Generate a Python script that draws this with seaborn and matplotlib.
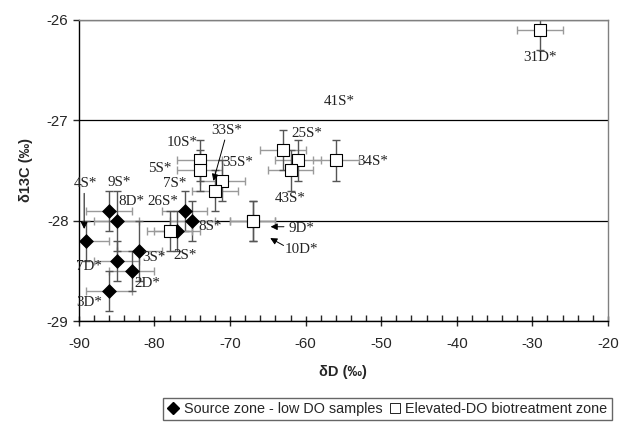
import numpy as np
import pandas as pd
import matplotlib
matplotlib.use("Agg")
import matplotlib.pyplot as plt
from matplotlib.lines import Line2D
from matplotlib.ticker import MultipleLocator
import seaborn as sns

# source zone (low DO) samples
src_labels = ["4S*", "9S*", "8D*", "3S*", "7D*", "2D*", "3D*", "26S*", "8S*", "2S*"]
src_dD = [-89.0, -86.0, -85.0, -82.0, -85.0, -83.0, -86.0, -76.0, -75.0, -77.0]
src_d13C = [-28.2, -27.9, -28.0, -28.3, -28.4, -28.5, -28.7, -27.9, -28.0, -28.1]
src_dD_err = [3, 3, 3, 3, 3, 3, 3, 3, 3, 3]
src_d13C_err = [0.2, 0.2, 0.3, 0.3, 0.2, 0.2, 0.2, 0.2, 0.2, 0.2]

# elevated-DO biotreatment zone samples
elev_labels = ["31D*", "41S*", "25S*", "43S*", "34S*", "10S*", "5S*", "35S*",
               "33S*", "7S*", "9D*", "10D*"]
elev_dD = [-29.0, -63.0, -61.0, -62.0, -56.0, -74.0, -74.0, -71.0, -72.0, -78.0, -67.0, -67.0]
elev_d13C = [-26.1, -27.3, -27.4, -27.5, -27.4, -27.4, -27.5, -27.6, -27.7, -28.1, -28.0, -28.0]
elev_dD_err = [3, 3, 3, 3, 3, 3, 3, 3, 3, 3, 3, 3]
elev_d13C_err = [0.2, 0.2, 0.2, 0.2, 0.2, 0.2, 0.2, 0.2, 0.2, 0.2, 0.2, 0.2]

src_name = "Source zone - low DO samples"
elev_name = "Elevated-DO biotreatment zone"

df = pd.concat([
    pd.DataFrame({"label": src_labels, "dD": src_dD, "d13C": src_d13C,
                  "xerr": src_dD_err, "yerr": src_d13C_err, "zone": src_name}),
    pd.DataFrame({"label": elev_labels, "dD": elev_dD, "d13C": elev_d13C,
                  "xerr": elev_dD_err, "yerr": elev_d13C_err, "zone": elev_name}),
], ignore_index=True)

# where each sample label sits (data coords)
label_pos = {
    "31D*": (-29.0, -26.38), "41S*": (-55.5, -26.81), "25S*": (-59.8, -27.13),
    "34S*": (-51.1, -27.41), "43S*": (-62.1, -27.78), "10S*": (-76.4, -27.22),
    "33S*": (-70.5, -27.10), "5S*": (-79.3, -27.48), "35S*": (-69.0, -27.42),
    "7S*": (-77.3, -27.63), "4S*": (-89.1, -27.63), "9S*": (-84.7, -27.62),
    "8D*": (-83.0, -27.81), "26S*": (-78.9, -27.81), "8S*": (-72.7, -28.06),
    "2S*": (-76.0, -28.35), "3S*": (-80.1, -28.37), "7D*": (-88.7, -28.46),
    "2D*": (-80.9, -28.63), "3D*": (-88.7, -28.81), "9D*": (-60.6, -28.08),
    "10D*": (-60.5, -28.29),
}
arrows = [((-70.6, -27.17), (-72.3, -27.63)),
          ((-89.3, -27.70), (-89.3, -28.11)),
          ((-62.5, -28.06), (-65.0, -28.06)),
          ((-62.6, -28.26), (-65.0, -28.16))]

sns.set_style("white")
plt.rcParams["font.family"] = ["Liberation Sans", "DejaVu Sans"]
plt.rcParams["axes.unicode_minus"] = False

fig = plt.figure(figsize=(6.21, 4.22), dpi=100)
ax = fig.add_axes([0.127, 0.239, 0.852, 0.714])

for zone in [src_name, elev_name]:
    sub = df[df.zone == zone]
    ax.errorbar(sub.dD, sub.d13C, xerr=sub.xerr, fmt="none", ecolor="#9a9a9a",
                elinewidth=1, capsize=3, capthick=1, zorder=2)
    ax.errorbar(sub.dD, sub.d13C, yerr=sub.yerr, fmt="none", ecolor="#555555",
                elinewidth=1, capsize=3, capthick=1, zorder=2)

# diamonds first, squares on top
sns.scatterplot(data=df[df.zone == src_name], x="dD", y="d13C", marker="D",
                color="black", s=50, edgecolor="black", linewidth=0.5,
                legend=False, ax=ax, zorder=3)
sns.scatterplot(data=df[df.zone == elev_name], x="dD", y="d13C", marker="s",
                color="white", s=80, edgecolor="black", linewidth=0.8,
                legend=False, ax=ax, zorder=3)

for lab, (tx, ty) in label_pos.items():
    ax.text(tx, ty, lab, ha="center", va="center", fontsize=10.8,
            family=["Liberation Serif", "DejaVu Serif"], color="#222222", zorder=4)
for (x0, y0), (x1, y1) in arrows:
    ax.annotate("", xy=(x1, y1), xytext=(x0, y0),
                arrowprops=dict(arrowstyle="-|>", color="black", lw=0.7,
                                mutation_scale=10), zorder=4)

ax.set_xlim(-90, -20)
ax.set_ylim(-29, -26)
ax.xaxis.set_major_locator(MultipleLocator(10))
ax.xaxis.set_minor_locator(MultipleLocator(2))
ax.yaxis.set_major_locator(MultipleLocator(1))
ax.tick_params(axis="x", which="major", direction="inout", length=7, width=1,
               labelsize=10.8, pad=8, bottom=True)
ax.tick_params(axis="x", which="minor", direction="in", length=4, width=1, bottom=True)
ax.tick_params(axis="y", which="major", direction="out", length=4, width=1,
               labelsize=10.8, left=True)
ax.yaxis.grid(True, color="black", lw=0.9)
ax.set_axisbelow(True)

for side in ["left", "bottom"]:
    ax.spines[side].set_color("black")
    ax.spines[side].set_linewidth(1)
for side in ["top", "right"]:
    ax.spines[side].set_color("#808080")
    ax.spines[side].set_linewidth(1)

ax.set_xlabel("δD (‰)", fontsize=10.5, fontweight="bold", labelpad=10)
ax.set_ylabel("δ13C (‰)", fontsize=10.5, fontweight="bold", labelpad=10)

handles = [Line2D([], [], marker="D", color="black", ls="", markersize=6),
           Line2D([], [], marker="s", markerfacecolor="white",
                  markeredgecolor="black", ls="", markersize=7, markeredgewidth=0.6)]
leg = fig.legend(handles, [src_name, elev_name], loc="center",
                 bbox_to_anchor=(0.624, 0.031), ncol=2, fontsize=10.4,
                 frameon=True, fancybox=False, handlelength=0.8,
                 handletextpad=0.3, columnspacing=0.5, borderpad=0.3)
leg.get_frame().set_edgecolor("#404040")
leg.get_frame().set_linewidth(1)

fig.savefig("out.png", dpi=100)
